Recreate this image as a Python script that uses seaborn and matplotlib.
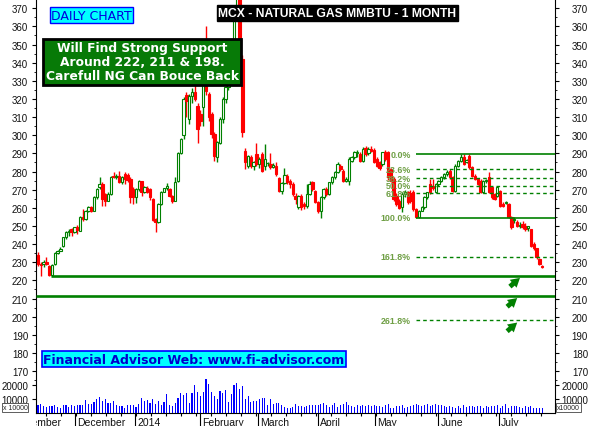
import numpy as np
import pandas as pd
import matplotlib
matplotlib.use("Agg")
import matplotlib.pyplot as plt
import seaborn as sns
from matplotlib.transforms import Bbox, TransformedBbox

# MCX natural gas, daily candles (mid Nov 2013 -> late Jul 2014)
opens = [
    # Nov
    234, 229, 229, 230, 228, 223, 229, 235, 236.4, 239, 243.7, 246.5, 248.3,
    # Dec
    246.8, 249.5, 247.4, 254.8, 253.8, 258.4, 260.3, 258.4, 265.8, 271.3, 273.1,
    267.6, 264, 267.6, 277.7, 276.8, 277.7, 274, 278.6, 278, 276, 270.4,
    # Jan
    265.8, 270.4, 274.6, 268.6, 271, 270.4, 265, 253.8, 252, 262, 269, 270.7,
    270.4, 266.7, 264, 275, 290.2, 300, 322, 309, 321.8, 323.7, 316.3,
    # Feb
    311.7, 315.4, 327, 322.8, 311.7, 300.7, 287.8, 296, 309, 320, 326.4, 335.6,
    351, 370, 392, 342, 291.5, 283, 288, 283, 289.7,
    # Mar
    284, 289.7, 283, 284.5, 284.2, 282.5, 283.2, 276.3, 269.5, 273.5, 277.7,
    275, 273, 266.7, 260.3, 266.3, 262, 260.8, 267.6, 274.4, 269.5,
    # Apr
    263.4, 258.5, 265.8, 270.4, 267.6, 274, 276.8, 279.6, 283, 280.5, 275,
    275, 286, 288, 290, 289.7, 286, 292.8, 290, 292.5,
    # May
    292, 287, 285, 284, 291, 290.6, 281.4, 276, 266.7, 264, 260.3, 267.6,
    268.5, 268, 268.5, 259.4, 254.8, 258.5, 260.3, 265.8, 273, 272, 268.5,
    # Jun
    273, 275, 276.8, 278.6, 280.5, 276.8, 269.5, 283.2, 286, 287.8, 285.5,
    288.8, 282.3, 277.7, 275.9, 275, 268.5, 275, 276.8, 271.3, 267.6, 266.7,
    # Jul
    269.5, 262.1, 262.8, 262, 254.8, 253.5, 252, 249.8, 251, 250.2, 249,
    248.3, 240, 237.7, 231.8, 228,
]
highs = [
    235.5, 230, 231, 232.7, 228.5, 229, 235.5, 237, 238.5, 244, 247, 248.5, 248.8,
    249.5, 250.5, 255.5, 259.3, 258.8, 261, 261, 266.5, 271, 276.8, 274,
    268, 268.5, 277.5, 279.6, 278.5, 280.5, 277.5, 279.8, 279, 277, 271.5,
    271, 275.5, 275, 272, 272, 271, 265.5, 254.5, 262.5, 269.5, 271, 273.7,
    271, 267, 276.8, 290.5, 298.5, 321, 323.7, 323, 326, 328, 318,
    314, 330, 360.4, 324, 313, 302, 297, 310, 321, 327, 336.5, 352,
    372, 395, 400, 344, 293, 289, 289, 286, 295.7,
    288, 291, 295, 285.5, 290, 284.5, 285, 277, 274.5, 282, 278.5,
    276, 274, 268, 267, 267.5, 263, 273, 275, 275, 270,
    264, 266.5, 271, 271.5, 274.5, 277.5, 280.5, 285, 284, 281.5, 277,
    288, 288.5, 291.5, 292, 291, 293.5, 294, 293.5, 294,
    293, 288, 286, 291, 292, 291.5, 282, 277, 268, 265, 268.5, 270,
    269.5, 270, 270, 260, 259, 261, 266.5, 269, 276, 276, 273.5,
    275.5, 277.5, 279, 281, 281.4, 277.5, 284, 286.5, 289.6, 289.6, 287,
    289.6, 283, 278.5, 276.5, 276, 275.5, 276, 279.6, 272, 268, 272,
    270, 263, 264, 262.5, 255.5, 255, 253.5, 252, 253, 251.5, 250,
    248.5, 241, 238, 232.5, 228.5,
]
lows = [
    228, 222.6, 227.5, 228.5, 222.5, 222.5, 228.5, 234.5, 236, 238.5, 243, 244.5, 244.3,
    246, 245.6, 247, 253, 253.5, 257.5, 257.5, 258, 265, 270.5, 261.2,
    261, 263.5, 267, 276.5, 276, 273.5, 273, 273, 274.5, 262.5, 262,
    262.5, 269.5, 266.5, 268, 268, 264.5, 252.5, 246.5, 251.5, 261.5, 268.5, 270,
    266, 262.7, 263.5, 274.5, 289.5, 298, 310, 306, 318, 319, 296,
    305, 305, 322, 308, 298.5, 286, 285, 295, 307, 318, 325, 334,
    349, 365, 344, 299, 281.4, 282, 282, 281, 283,
    282, 280, 281, 283, 281.5, 282, 277.5, 268.5, 267.5, 273, 273,
    271, 266.5, 262, 259.5, 259, 259.5, 260, 267, 269.5, 262.5,
    257, 254.2, 265, 266.5, 267, 273, 276, 279, 280.5, 274.5, 274,
    272.5, 285, 287, 288, 285, 285, 288.5, 289, 290.5,
    284.5, 282.5, 281, 283, 286, 275.5, 274, 264, 261, 259.5, 257.5, 266,
    262, 262.5, 258, 254.5, 254.5, 258, 259.5, 265, 267.5, 270, 268,
    272, 274, 276, 277.5, 276, 269, 269, 282.5, 285, 283.5, 284.5,
    281.5, 277, 275.5, 272.5, 268, 268, 273.5, 268, 265, 264.5, 266,
    260.5, 260.3, 262, 254.5, 248.5, 251.5, 249.5, 249, 248.5, 247, 247.5,
    238.5, 237, 232, 228.5, 226.8,
]
closes = [
    229, 228.5, 230, 229, 223, 228.5, 235, 236.4, 237.5, 243.7, 246.5, 247.4, 246.8,
    249.2, 248, 254.8, 253.8, 258.4, 260.3, 258.4, 265.8, 270.4, 273.1, 264.9,
    264, 267.6, 276.8, 276.8, 277.7, 274, 276.8, 275.9, 275.5, 265.8, 265.8,
    270.4, 274.6, 268.6, 271.3, 269, 266, 253.5, 252, 262, 269, 270.7, 272,
    266.7, 264, 274.4, 290.2, 298, 320, 319, 321.8, 323.7, 320, 303.5,
    308, 329.2, 324.6, 309.9, 300.7, 288.8, 296.1, 309, 320, 326.4, 335.6, 351,
    370, 392, 346.6, 301.7, 285.1, 288.4, 283, 285.5, 284.2,
    287, 280.5, 287, 284.8, 282.3, 283.5, 278.6, 269.5, 273.5, 278, 274,
    273, 267.6, 264.9, 266.3, 260.3, 260.8, 267.6, 273, 270.4, 263.4,
    258.5, 265.8, 270.4, 267.6, 274, 276.8, 279.6, 284.2, 281.4, 275, 276,
    287, 287.8, 290.6, 291, 286, 292.4, 289.7, 292.5, 291.5,
    285, 283, 282, 290.6, 287, 276.8, 275, 264.9, 262, 260, 267.6, 268.5,
    263, 264, 259.4, 254.8, 258.5, 260.3, 265.8, 268.5, 268.5, 271, 273,
    275, 276.8, 278.6, 280, 276.8, 269.5, 283.2, 286, 288, 284.2, 286.2,
    282.3, 277.7, 276, 273, 268.5, 275, 275.2, 268.5, 265.8, 264.9, 271.3,
    261.2, 260.8, 263.2, 254.8, 249.3, 254, 250.2, 250.8, 249.3, 248.3, 250,
    239.1, 237.7, 232.7, 229, 227.2,
]
# volume, thousands of lots
volume_k = [
    5.2, 6.4, 4.5, 4.0, 4.5, 4.8, 5.2, 4.0, 3.3, 5.2,
    5.7, 4.0, 5.2, 4.6, 5.2, 5.2, 5.2, 8.6, 6.4, 6.0,
    7.6, 9.3, 11.4, 8.1, 9.3, 7.1, 6.7, 8.3, 5.2, 4.5,
    4.5, 3.3, 5.7, 5.2, 5.2, 4.2, 6.4, 10.7, 8.1, 8.6,
    6.7, 10.0, 6.4, 8.1, 5.7, 7.6, 12.9, 5.7, 4.5, 7.1,
    10.7, 14.1, 12.4, 14.1, 7.1, 13.6, 20.0, 14.9, 11.7, 15.0,
    24.3, 20.7, 14.9, 11.7, 10.0, 15.4, 14.3, 16.4, 7.6, 12.9,
    20.0, 21.4, 17.1, 19.0, 10.0, 11.7, 7.6, 8.3, 8.3, 9.3,
    10.7, 10.7, 5.7, 10.0, 6.4, 6.7, 6.7, 5.2, 4.0, 2.9,
    3.3, 4.0, 6.2, 4.5, 4.8, 4.0, 4.5, 5.7, 5.2, 5.7,
    5.2, 6.4, 7.1, 5.2, 4.0, 5.2, 7.1, 4.0, 5.2, 6.4,
    7.6, 5.2, 4.8, 4.0, 5.2, 4.5, 5.2, 4.5, 5.2, 4.8,
    5.2, 4.8, 4.5, 4.0, 5.2, 6.4, 3.3, 2.9, 4.5, 4.8,
    5.2, 2.9, 4.0, 4.8, 5.2, 6.4, 5.2, 4.5, 5.2, 6.4,
    4.8, 5.2, 6.4, 5.2, 5.2, 4.8, 4.0, 4.8, 4.0, 2.9,
    4.8, 3.3, 5.2, 4.0, 4.8, 4.5, 4.0, 4.8, 4.5, 3.3,
    4.5, 4.0, 4.8, 4.5, 5.7, 3.3, 4.8, 6.0, 3.3, 4.8,
    4.5, 4.8, 4.0, 3.3, 4.5, 3.8, 4.5, 2.9, 2.9, 2.9,
    2.9,
]
month_pos = [-9.6, 13.2, 34.6, 57.9, 78.6, 100, 120.4, 142.9, 164.6]
month_labels = ["November", "December", "2014", "February", "March",
                "April", "May", "June", "July"]
support_levels = [222.6, 211.5]
support_start = [4.6, -0.9]
fib_high, fib_low, fib_start = 289.6, 254.6, 135
fib_ratios = [0.0, 0.236, 0.382, 0.5, 0.618, 1.0, 1.618, 2.618]
price_ticks = list(range(170, 371, 10))
vol_ticks = [10000, 20000]

n = len(closes)
assert len(opens) == n and len(highs) == n and len(lows) == n and len(volume_k) == n, \
    (len(opens), len(highs), len(lows), len(closes), len(volume_k))

sns.set_style("ticks")
plt.rcParams["font.family"] = ["Liberation Sans", "DejaVu Sans"]

GREEN = "#008000"
RED = "#FF0000"
W, H = 590, 427
L, R, B = 35.5, 555, 13.5
XLIM = (-0.9, 184.6)

fig = plt.figure(figsize=(W / 100, H / 100), dpi=100)
ax = fig.add_axes([L / W, B / H, (R - L) / W, (H - B) / H])
ax.set_xlim(*XLIM)
ax.set_ylim(147.2, 375.1)

df = pd.DataFrame({"idx": np.arange(n), "open": opens, "high": highs,
                   "low": lows, "close": closes, "vol": np.array(volume_k) * 1000})
df["up"] = df["close"] >= df["open"]
df["top"] = df[["open", "close"]].max(axis=1)
df["bot"] = df[["open", "close"]].min(axis=1)
edge = np.where(df["up"], GREEN, RED)

ax.vlines(df["idx"], df["top"], df["high"], colors=edge, lw=1.0, zorder=2)
ax.vlines(df["idx"], df["low"], df["bot"], colors=edge, lw=1.0, zorder=2)
ax.bar(df["idx"], np.maximum(df["top"] - df["bot"], 0.3), bottom=df["bot"], width=0.85,
       color=np.where(df["up"], "white", RED), edgecolor=edge, linewidth=0.8, zorder=3)

# support lines
for lvl, x0 in zip(support_levels, support_start):
    ax.hlines(lvl, x0, XLIM[1], color=GREEN, lw=1.9, zorder=4)

# fibonacci levels
fib_color = "#6f9f45"
for r in fib_ratios:
    val = fib_high - r * (fib_high - fib_low)
    solid = r in (0.0, 1.0)
    ax.hlines(val, fib_start, XLIM[1], color=GREEN, lw=1.2 if solid else 1.0,
              linestyles="solid" if solid else (0, (2.6, 2.2)), zorder=4)
    ax.annotate(f"{r * 100:.1f}%", xy=(fib_start, val), xytext=(-4, 0),
                textcoords="offset points", ha="right", va="center",
                fontsize=6.4, color=fib_color, fontweight="bold")

# arrows under the support levels
arrow_levels = support_levels + [fib_high - 2.618 * (fib_high - fib_low)]
for lvl, x in zip(arrow_levels, [168.5, 167.5, 167.5]):
    ax.annotate("", xy=(x + 3.6, lvl - 1.2), xytext=(x, lvl - 6.0),
                arrowprops=dict(arrowstyle="simple,head_length=0.65,head_width=0.75,tail_width=0.35",
                                color=GREEN, lw=0, shrinkA=0, shrinkB=0))

for s in ["left", "right", "bottom"]:
    ax.spines[s].set_color("black")
    ax.spines[s].set_linewidth(0.8)
ax.spines["top"].set_visible(False)

ax.set_xticks(month_pos[1:])
ax.set_xticklabels([])
ax.set_xticks(np.arange(3, 182, 5.35), minor=True)
ax.tick_params(axis="x", which="major", direction="out", length=9.5, width=0.8, color="black")
ax.tick_params(axis="x", which="minor", direction="out", length=2.2, width=0.8, color="black")

ax.set_yticks(price_ticks)
ax.set_yticks(np.arange(165, 376, 5), minor=True)
ax.tick_params(axis="y", which="major", length=2.8, width=0.8, labelsize=7, pad=2.5,
               color="black", labelcolor="#111111")
ax.tick_params(axis="y", which="minor", length=1.5, width=0.6, color="black")

axr = ax.twinx()
axr.set_ylim(ax.get_ylim())
axr.set_yticks(price_ticks, labels=[str(v) for v in price_ticks], ha="right")
axr.set_yticks(np.arange(165, 376, 5), minor=True)
axr.tick_params(axis="y", which="major", length=2.8, width=0.8, labelsize=7, pad=21,
                color="black", labelcolor="#111111")
axr.tick_params(axis="y", which="minor", length=1.5, width=0.6, color="black")
for s in axr.spines.values():
    s.set_visible(False)

for pos, lab in zip(month_pos, month_labels):
    t = ax.annotate(lab, xy=(pos, 0), xycoords=("data", "axes fraction"),
                    xytext=(1.5, -3.2), textcoords="offset points", ha="left", va="top",
                    fontsize=7.5, color="#111111", annotation_clip=False)
    t.set_clip_box(TransformedBbox(Bbox([[0, -0.2], [1, 1]]), ax.transAxes))
    t.set_clip_on(True)

# volume panel
vax = fig.add_axes([L / W, B / H, (R - L) / W, 40 / H])
vax.patch.set_alpha(0)
sns.barplot(data=df, x="idx", y="vol", native_scale=True, color="#0000FF",
            saturation=1, width=0.4, linewidth=0, errorbar=None, ax=vax)
vax.set_xlim(*XLIM)
vax.set_ylim(0, 28600)
vax.xaxis.set_visible(False)
vax.set_ylabel("")
for s in vax.spines.values():
    s.set_visible(False)
vax.set_yticks(vol_ticks, labels=[str(v) for v in vol_ticks])
vax.tick_params(axis="y", length=2.8, width=0.8, labelsize=7, pad=2.5,
                color="black", labelcolor="#111111")
vaxr = vax.twinx()
vaxr.set_ylim(vax.get_ylim())
vaxr.set_yticks(vol_ticks, labels=[str(v) for v in vol_ticks], ha="right")
vaxr.tick_params(axis="y", length=2.8, width=0.8, labelsize=7, pad=21,
                 color="black", labelcolor="#111111")
for s in vaxr.spines.values():
    s.set_visible(False)

for xpx, txt in [(15, "x 10000"), (568.5, "x10000")]:
    fig.text(xpx / W, 1 - 408.5 / H, txt, fontsize=5, ha="center", va="center",
             bbox=dict(boxstyle="square,pad=0.12", fc="white", ec="#444444", lw=0.6))

# annotation boxes
fig.text(337.5 / W, 1 - 14 / H, "MCX - NATURAL GAS MMBTU - 1 MONTH", color="white",
         fontweight="bold", fontsize=8.7, ha="center", va="center",
         bbox=dict(boxstyle="square,pad=0.15", fc="black", ec="black"))
fig.text(91.5 / W, 1 - 16 / H, "DAILY CHART", family="DejaVu Sans", fontsize=9,
         color="#0000DD", ha="center", va="center",
         bbox=dict(boxstyle="square,pad=0.1", fc="#00FFFF", ec="#0000FF", lw=1))
fig.text(142 / W, 1 - 63 / H,
         "Will Find Strong Support\nAround 222, 211 & 198.\nCarefull NG Can Bouce Back",
         family="DejaVu Sans", fontweight="bold", fontsize=8.8, color="white",
         ha="center", va="center", multialignment="center", linespacing=1.1,
         bbox=dict(boxstyle="square,pad=0.2", fc="#077A07", ec="black", lw=2))
fig.text(194 / W, 1 - 360 / H, "Financial Advisor Web: www.fi-advisor.com",
         family="DejaVu Sans", fontweight="bold", fontsize=9, color="#0000CC",
         ha="center", va="center",
         bbox=dict(boxstyle="square,pad=0.12", fc="#00FFFF", ec="#0000FF", lw=1.2))

fig.savefig("out.png", dpi=100)
